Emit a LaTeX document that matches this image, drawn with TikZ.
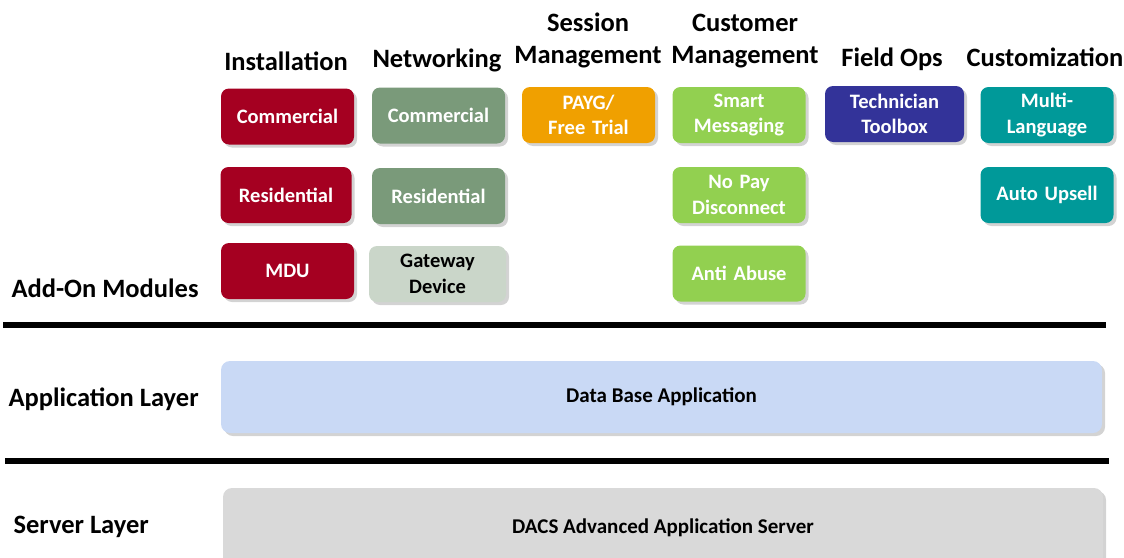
\documentclass[tikz,border=0pt]{standalone}
\usepackage{fontspec}
\setmainfont{Carlito}
\usetikzlibrary{shadows}
\definecolor{instred}{HTML}{A50021}
\definecolor{netgreen}{HTML}{7A9A7A}
\definecolor{gatewaygreen}{HTML}{CAD6C9}
\definecolor{sessorange}{HTML}{F0A000}
\definecolor{custgreen}{HTML}{92D050}
\definecolor{fieldblue}{HTML}{333399}
\definecolor{customteal}{HTML}{009999}
\definecolor{appblue}{HTML}{C9D9F5}
\definecolor{servgray}{HTML}{D9D9D9}
\tikzset{
  mod/.style={rounded corners=8pt, minimum width=133pt, minimum height=56pt,
    text width=131pt, align=center, text=white, inner sep=0pt,
    font=\fontsize{20.5}{25.5}\selectfont\bfseries,
    drop shadow={opacity=0.35, shadow xshift=3pt, shadow yshift=-3pt}},
  head/.style={font=\fontsize{26.5}{32}\selectfont\bfseries, align=center, anchor=base},
  layerlabel/.style={font=\fontsize{26.5}{30}\selectfont\bfseries, anchor=base west},
  layer/.style={rounded corners=9pt, font=\fontsize{21}{24}\selectfont\bfseries,
    drop shadow={opacity=0.35, shadow xshift=3pt, shadow yshift=-3pt}},
  sep/.style={line width=6pt}
}
\begin{document}
\begin{tikzpicture}[x=1pt,y=-1pt]
\useasboundingbox (0,0) rectangle (1124,557);
% headers
\node[head] (hinst) at (286,70) {Installation};
\node[head] (hnet) at (437,67) {Networking};
\node[head] (hsess) at (588,63) {Session\\Management};
\node[head] (hcust) at (745,63) {Customer\\Management};
\node[head] (hfield) at (892,66) {Field Ops};
\node[head] (hcustom) at (1045,66) {Customization};
% installation
\node[mod, fill=instred] (i1) at (287.5,116.5) {Commercial};
\node[mod, fill=instred, minimum width=130pt] (i2) at (286,195) {Residential};
\node[mod, fill=instred] (i3) at (287.5,271) {MDU};
% networking
\node[mod, fill=netgreen] (n1) at (438.5,115.5) {Commercial};
\node[mod, fill=netgreen] (n2) at (438.5,196) {Residential};
\node[mod, fill=gatewaygreen, text=black, minimum width=137pt] (n3) at (437.5,274) {Gateway\\Device};
% session
\node[mod, fill=sessorange] (s1) at (588.5,115) {PAYG/\\Free Trial};
% customer
\node[mod, fill=custgreen] (c1) at (739,115) {Smart\\Messaging};
\node[mod, fill=custgreen] (c2) at (739,195) {No Pay\\Disconnect};
\node[mod, fill=custgreen] (c3) at (739,273.5) {Anti Abuse};
% field ops
\node[mod, fill=fieldblue, minimum width=139pt] (f1) at (894.5,114) {Technician\\Toolbox};
% customization
\node[mod, fill=customteal] (m1) at (1047,115) {Multi-\\Language};
\node[mod, fill=customteal] (m2) at (1047,195) {Auto Upsell};
% layer labels
\node[layerlabel] (lmod) at (8,297) {Add-On Modules};
\node[layerlabel] (lapp) at (5,406) {Application Layer};
\node[layerlabel] (lserv) at (10,533) {Server Layer};
% separators
\coordinate (s1a) at (3,325);
\coordinate (s1b) at (1106,325);
\coordinate (s2a) at (5,461);
\coordinate (s2b) at (1109,461);
\draw[sep] (s1a) -- (s1b);
\draw[sep] (s2a) -- (s2b);
% layers
\node[layer, fill=appblue, minimum width=881pt, minimum height=72pt] (app) at (661.5,397) {Data Base Application};
\node[layer, fill=servgray, minimum width=880pt, minimum height=80pt] (serv) at (663,528) {DACS Advanced Application Server};
\end{tikzpicture}
\end{document}
